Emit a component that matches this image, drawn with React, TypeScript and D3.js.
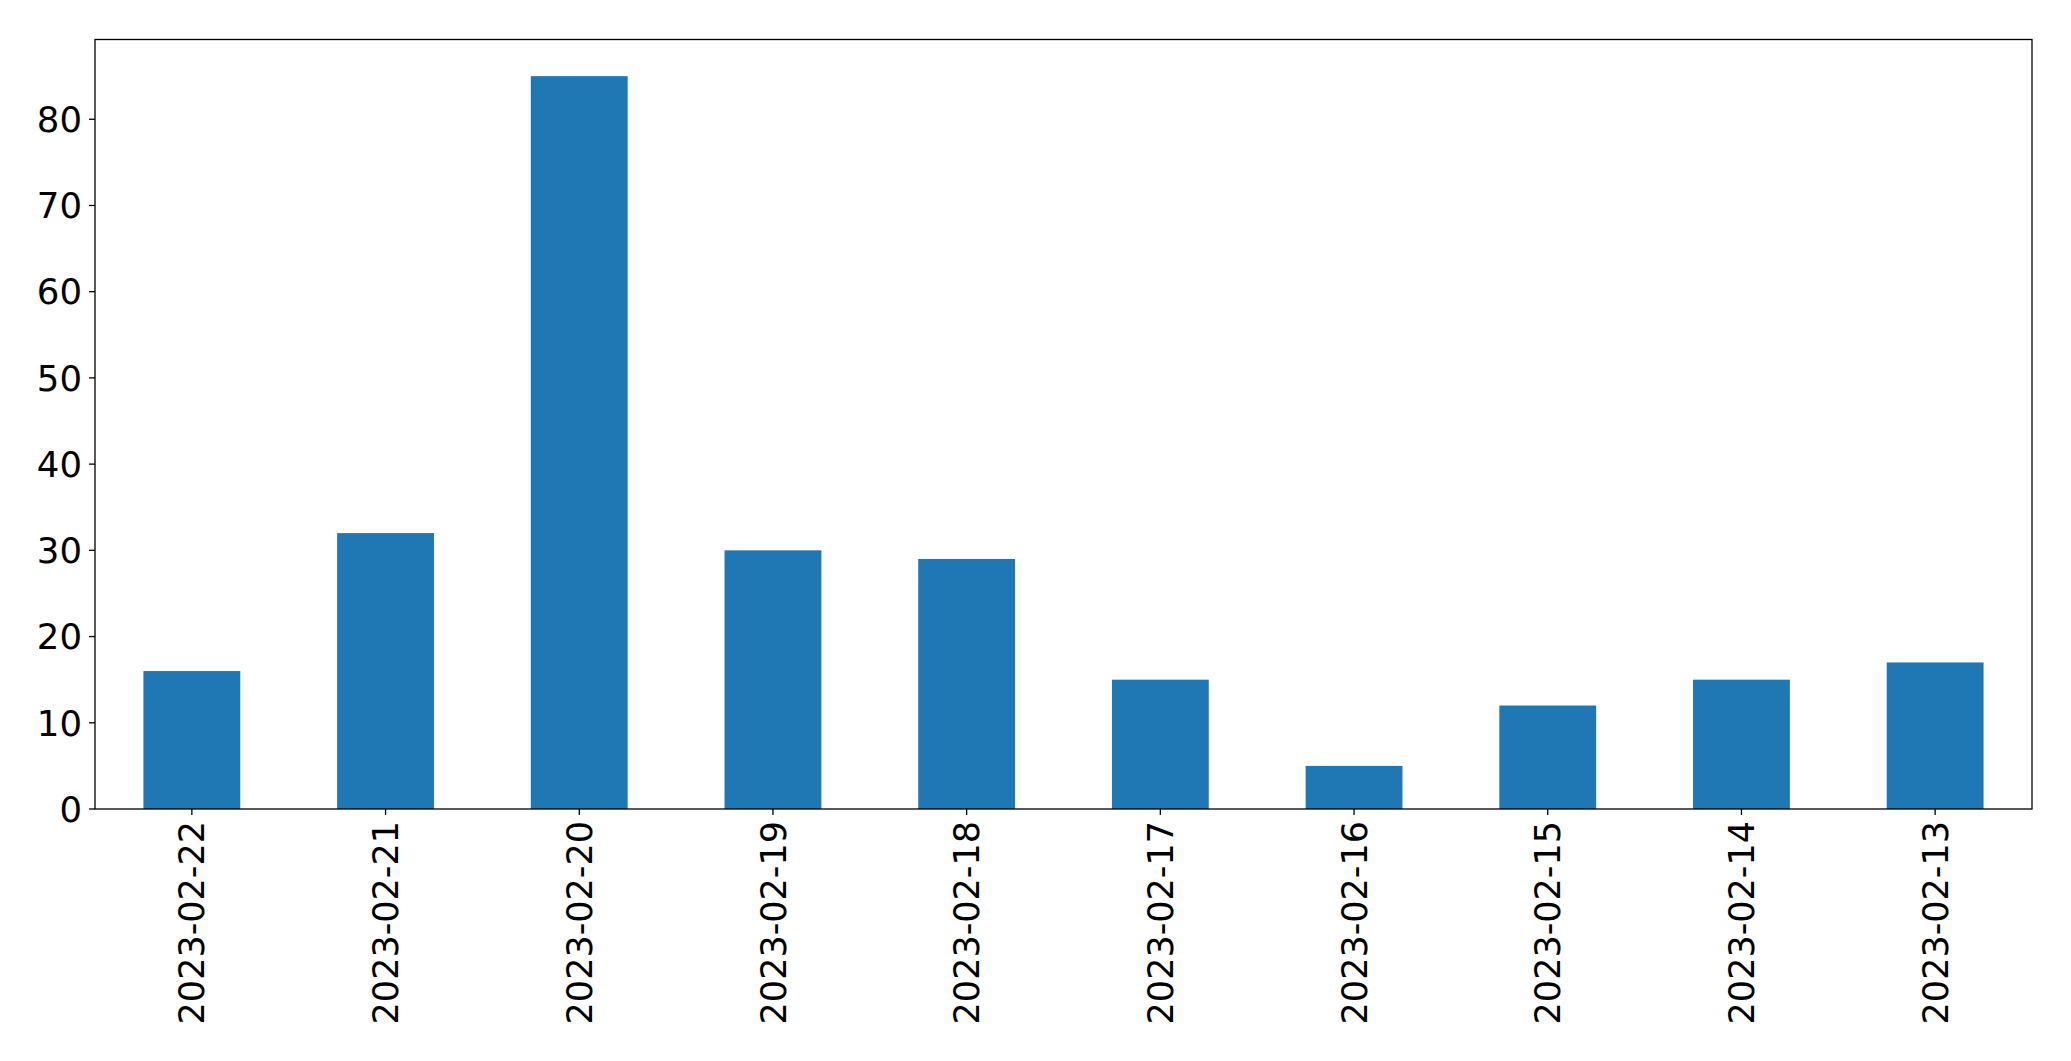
import { useEffect, useRef } from 'react';
import * as d3 from 'd3';

const dates: string[] = [
  '2023-02-22', '2023-02-21', '2023-02-20', '2023-02-19', '2023-02-18',
  '2023-02-17', '2023-02-16', '2023-02-15', '2023-02-14', '2023-02-13',
];
const counts: number[] = [16, 32, 85, 30, 29, 15, 5, 12, 15, 17];
const yTicks: number[] = [0, 10, 20, 30, 40, 50, 60, 70, 80];

export default function App() {
  const ref = useRef<SVGSVGElement | null>(null);

  useEffect(() => {
    const W = 2071;
    const H = 1061;
    const margin = { top: 39.5, right: 39, bottom: 252, left: 95 };
    const width = W - margin.left - margin.right;
    const height = H - margin.top - margin.bottom;
    const font = '"DejaVu Sans", sans-serif';

    const svg = d3.select(ref.current);
    svg.selectAll('*').remove();
    svg.attr('width', W).attr('height', H);

    const g = svg.append('g').attr('transform', `translate(${margin.left},${margin.top})`);

    // pandas style: bars at integer positions, xlim [-0.5, n-0.5], width 0.5
    const x = d3.scaleLinear().domain([-0.5, dates.length - 0.5]).range([0, width]);
    const y = d3.scaleLinear().domain([0, d3.max(counts)! * 1.05]).range([height, 0]);
    const barW = x(0.25) - x(-0.25);

    g.selectAll('rect.bar')
      .data(counts)
      .enter()
      .append('rect')
      .attr('class', 'bar')
      .attr('x', (_, i) => x(i) - barW / 2)
      .attr('y', d => y(d))
      .attr('width', barW)
      .attr('height', d => height - y(d))
      .attr('fill', '#1f77b4');

    // frame
    g.append('rect')
      .attr('x', 0)
      .attr('y', 0)
      .attr('width', width)
      .attr('height', height)
      .attr('fill', 'none')
      .attr('stroke', '#000')
      .attr('stroke-width', 1.3);

    // y axis
    yTicks.forEach(t => {
      g.append('line')
        .attr('x1', -6).attr('x2', 0)
        .attr('y1', y(t)).attr('y2', y(t))
        .attr('stroke', '#000').attr('stroke-width', 1.3);
      g.append('text')
        .text(t)
        .attr('x', -13)
        .attr('y', y(t))
        .attr('dy', '0.36em')
        .attr('text-anchor', 'end')
        .attr('font-size', '35.5px')
        .attr('font-family', font)
        .attr('fill', '#000');
    });

    // x axis
    dates.forEach((d, i) => {
      g.append('line')
        .attr('x1', x(i)).attr('x2', x(i))
        .attr('y1', height).attr('y2', height + 6)
        .attr('stroke', '#000').attr('stroke-width', 1.3);
      g.append('text')
        .text(d)
        .attr('transform', `translate(${x(i)},${height + 12}) rotate(-90)`)
        .attr('dy', '0.36em')
        .attr('text-anchor', 'end')
        .attr('font-size', '35px')
        .attr('font-family', font)
        .attr('fill', '#000');
    });
  }, []);

  return (
    <svg
      ref={ref}
      style={{ position: 'absolute', left: 0, top: 0, background: '#fff' }}
    />
  );
}
